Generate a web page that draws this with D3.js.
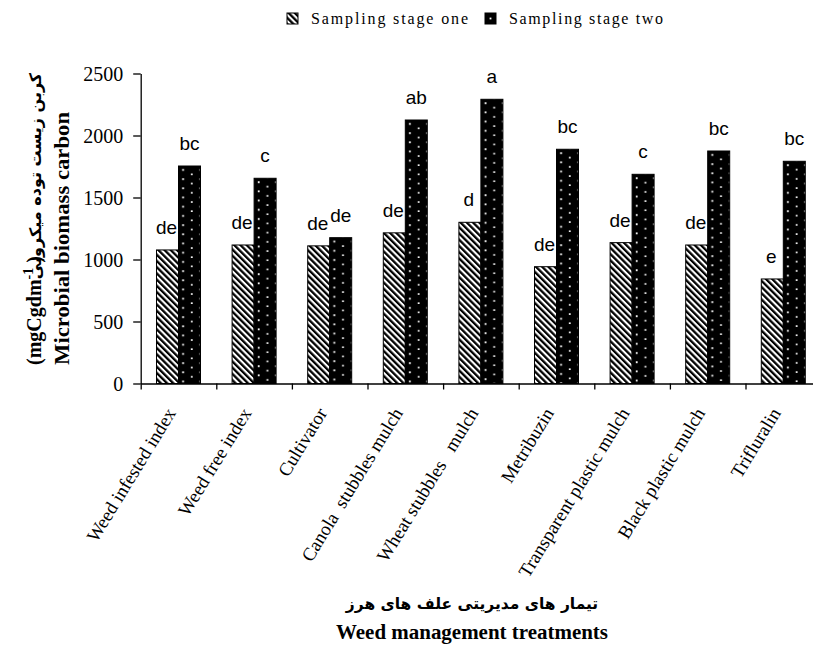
<!DOCTYPE html>
<html>
<head>
<meta charset="utf-8">
<script src="https://cdn.jsdelivr.net/npm/d3@7/dist/d3.min.js"></script>
<style>
  html, body { margin: 0; padding: 0; background: #fff; }
  svg { display: block; }
  text { white-space: pre; }
</style>
</head>
<body>
<svg id="chart" width="813" height="646"></svg>
<script>
// Treatments and microbial biomass carbon at the two sampling stages
const categories = [
  "Weed infested index",
  "Weed free index",
  "Cultivator",
  "Canola  stubbles mulch",
  "Wheat stubbles   mulch",
  "Metribuzin",
  "Transparent plastic mulch",
  "Black plastic mulch",
  "Trifluralin"
];
const seriesNames = ["Sampling stage one", "Sampling stage two"];
const stageOne = [1077, 1117, 1110, 1215, 1300, 942, 1136, 1117, 843];
const stageTwo = [1754, 1655, 1176, 2125, 2292, 1889, 1687, 1875, 1792];
const lettersOne = ["de", "de", "de", "de", "d", "de", "de", "de", "e"];
const lettersTwo = ["bc", "c", "de", "ab", "a", "bc", "c", "bc", "bc"];
const yTicks = [0, 500, 1000, 1500, 2000, 2500];

const svg = d3.select("#chart");
const defs = svg.append("defs");

const y = d3.scaleLinear().domain([0, 2500]).range([383.5, 73.5]);
const x = d3.scaleBand().domain(categories).range([140.7, 821.1]);
const xEdge = d3.scaleLinear().domain([0, categories.length]).range([140.7, 821.1]);
const xs = d3.scaleBand().domain([0, 1]).range([15.8, 59.8]);

const serif = "'Liberation Serif', 'Times New Roman', serif";
const sans = "'Liberation Sans', Arial, sans-serif";
const persian = "'DejaVu Sans', sans-serif";

// Hatched fill for stage one
const hatch = defs.append("pattern")
  .attr("id", "hatch")
  .attr("patternUnits", "userSpaceOnUse")
  .attr("width", 4.4).attr("height", 4.4)
  .attr("patternTransform", "rotate(-45)");
hatch.append("rect").attr("width", 4.4).attr("height", 4.4).attr("fill", "#fff");
hatch.append("rect").attr("width", 2.3).attr("height", 4.4).attr("fill", "#000");

// Dotted black fill for stage two, one pattern per bar so the dots line up with each bar
const rows = categories.map((c, i) => ({ cat: c, i, one: stageOne[i], two: stageTwo[i] }));
rows.forEach(d => {
  const px = x(d.cat) + xs(1);
  const p = defs.append("pattern")
    .attr("id", "dots" + d.i)
    .attr("patternUnits", "userSpaceOnUse")
    .attr("x", px).attr("y", y(d.two))
    .attr("width", 17.4).attr("height", 9.2);
  p.append("rect").attr("width", 17.4).attr("height", 9.2).attr("fill", "#000");
  p.append("rect").attr("x", 3.7).attr("y", 3).attr("width", 1.8).attr("height", 1.8).attr("fill", "#fff");
  p.append("rect").attr("x", 12.4).attr("y", 7.6).attr("width", 1.8).attr("height", 1.8).attr("fill", "#fff");
});

// Bars
const g = svg.append("g");
g.selectAll("rect.one").data(rows).join("rect")
  .attr("class", "one")
  .attr("x", d => x(d.cat) + xs(0))
  .attr("y", d => y(d.one))
  .attr("width", xs.bandwidth())
  .attr("height", d => y(0) - y(d.one))
  .attr("fill", "url(#hatch)")
  .attr("stroke", "#000").attr("stroke-width", 1);

g.selectAll("rect.two").data(rows).join("rect")
  .attr("class", "two")
  .attr("x", d => x(d.cat) + xs(1))
  .attr("y", d => y(d.two))
  .attr("width", xs.bandwidth())
  .attr("height", d => y(0) - y(d.two))
  .attr("fill", d => "url(#dots" + d.i + ")")
  .attr("stroke", "#000").attr("stroke-width", 1);

// Significance letters
g.selectAll("text.l1").data(rows).join("text")
  .attr("class", "l1")
  .attr("x", d => x(d.cat) + xs(0) + xs.bandwidth() / 2 - 1)
  .attr("y", d => y(d.one) - 16)
  .attr("text-anchor", "middle")
  .attr("font-family", sans).attr("font-size", 19)
  .text((d, i) => lettersOne[i]);

g.selectAll("text.l2").data(rows).join("text")
  .attr("class", "l2")
  .attr("x", d => x(d.cat) + xs(1) + xs.bandwidth() / 2)
  .attr("y", d => y(d.two) - 16)
  .attr("text-anchor", "middle")
  .attr("font-family", sans).attr("font-size", 19)
  .text((d, i) => lettersTwo[i]);

// Y axis
const yAxis = svg.append("g")
  .attr("transform", "translate(140.7,0)")
  .call(d3.axisLeft(y).tickValues(yTicks).tickSize(7.5).tickSizeOuter(0).tickPadding(10).tickFormat(d3.format("d")));
yAxis.select(".domain").attr("stroke", "#000").attr("stroke-width", 1.3);
yAxis.selectAll(".tick line").attr("stroke", "#000").attr("stroke-width", 1.3);
yAxis.selectAll(".tick text")
  .attr("font-family", serif).attr("font-size", 20).attr("fill", "#000").attr("dy", "0.34em");

// X axis with ticks at category boundaries
const xAxis = svg.append("g")
  .attr("transform", "translate(0,383.5)")
  .call(d3.axisBottom(xEdge).tickValues(d3.range(categories.length + 1)).tickSize(6).tickSizeOuter(0).tickFormat(""));
xAxis.select(".domain").attr("stroke", "#000").attr("stroke-width", 1.3);
xAxis.selectAll(".tick line").attr("stroke", "#000").attr("stroke-width", 1.3);

// Rotated category labels
svg.append("g").selectAll("text").data(categories).join("text")
  .attr("transform", d => `translate(${x(d) + x.bandwidth() / 2 - 2},413) rotate(-58.5)`)
  .attr("text-anchor", "end")
  .attr("font-family", serif).attr("font-size", 18.8)
  .text(d => d);

// Y axis title
svg.append("text")
  .attr("transform", "translate(69,365) rotate(-90)")
  .attr("text-anchor", "start")
  .attr("font-family", serif).attr("font-size", 20).attr("font-weight", "bold")
  .attr("textLength", 253).attr("lengthAdjust", "spacingAndGlyphs")
  .text("Microbial biomass carbon");

const units = svg.append("text")
  .attr("transform", "translate(41,365) rotate(-90)")
  .attr("text-anchor", "start")
  .attr("font-family", serif).attr("font-size", 20).attr("font-weight", "bold");
units.append("tspan").text("(mgCgdm");
units.append("tspan").attr("dy", -8).attr("font-size", 14).text("-1");
units.append("tspan").attr("dy", 8).text(" )");

svg.append("text")
  .attr("transform", "translate(41,176) rotate(-90)")
  .attr("text-anchor", "middle")
  .attr("font-family", persian).attr("font-size", 16).attr("font-weight", "bold")
  .text("کربن زیست توده میکروبی");

// X axis titles
svg.append("text")
  .attr("x", 472).attr("y", 609)
  .attr("text-anchor", "middle")
  .attr("font-family", persian).attr("font-size", 15.5).attr("font-weight", "bold")
  .text("تیمار های مدیریتی علف های هرز");

svg.append("text")
  .attr("x", 472).attr("y", 639)
  .attr("text-anchor", "middle")
  .attr("font-family", serif).attr("font-size", 20).attr("font-weight", "bold")
  .attr("textLength", 272).attr("lengthAdjust", "spacingAndGlyphs")
  .text("Weed management treatments");

// Legend
const legendX = [287, 485];
const legend = svg.append("g").selectAll("g").data(seriesNames).join("g")
  .attr("transform", (d, i) => `translate(${legendX[i]},13)`);
legend.append("rect")
  .attr("width", 11).attr("height", 11)
  .attr("fill", (d, i) => i === 0 ? "url(#hatch)" : "#000")
  .attr("stroke", "#000").attr("stroke-width", 1);
legend.filter((d, i) => i === 1).append("rect")
  .attr("x", 4.6).attr("y", 4.6).attr("width", 1.8).attr("height", 1.8).attr("fill", "#fff");
legend.append("text")
  .attr("x", 24).attr("y", 11)
  .attr("font-family", serif).attr("font-size", 16)
  .attr("textLength", (d, i) => i === 0 ? 157 : 154).attr("lengthAdjust", "spacing")
  .text(d => d);
</script>
</body>
</html>
